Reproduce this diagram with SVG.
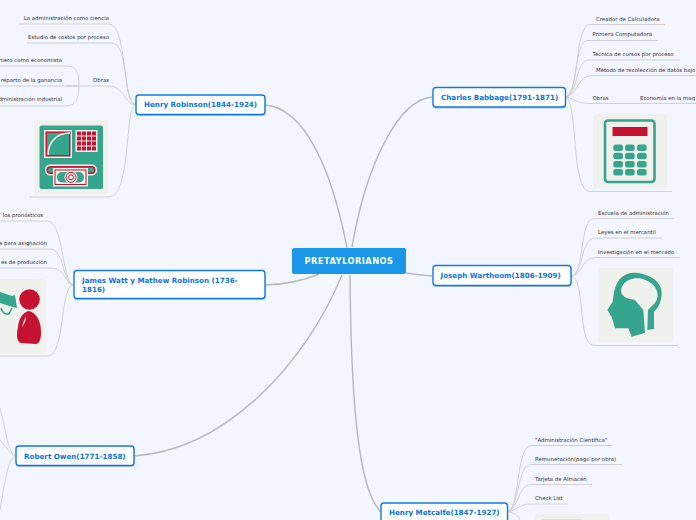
<svg xmlns="http://www.w3.org/2000/svg" width="696" height="520" viewBox="0 0 696 520">
<style>
.c{fill:none;stroke:#b8b8ba;stroke-width:1.4}
.l{fill:none;stroke:#cdcdd0;stroke-width:.9}
.t{font:5.4px "DejaVu Sans",sans-serif;fill:#333}
.n{fill:#fff;stroke:#0e7ae2;stroke-width:1.4}
.s{fill:#7f9cc0;opacity:.55}
.nt{font:bold 7.15px "DejaVu Sans",sans-serif;fill:#0b76e0}
.bg{fill:#f0f1ec}
.g{fill:#35a58e}
.r{fill:#c41230}
</style>
<rect width="696" height="520" fill="#f3f6fe"/>
<g id="connectors">
<path class="c" d="M265 105C305 108 332 170 347 248"/>
<path class="c" d="M432 97C398 100 366 165 352 247"/>
<path class="c" d="M406 273Q420 275 432 276"/>
<path class="c" d="M265 285Q295 284 319 274"/>
<path class="c" d="M134 456C225 450 305 365 342 275"/>
<path class="c" d="M350 275C351 400 358 490 381 512"/>
<g class="l">
<path d="M135 105C122 100 127 24 109 24H19"/>
<path d="M135 105C122 100 130 43 111 43H27"/>
<path d="M135 105C124 104 125 86 108 86H89"/>
<path d="M135 105C125 107 131 197 109 197H29"/>
<path d="M89 86H66"/>
<path d="M79 86C79 72 76 66 66 66H0"/>
<path d="M79 86H0"/>
<path d="M79 86C79 98 76 106 66 106H0"/>
<path d="M73 285C62 282 64 221 47 221H0"/>
<path d="M73 285C63 283 64 249 50 249H0"/>
<path d="M73 285C65 284 66 268 50 268H0"/>
<path d="M73 285C60 286 65 356 48 356H0"/>
<path d="M565 97C580 95 574 24.500 590 24.500H665"/>
<path d="M565 97C579 96 573 40.500 588 40.500H658"/>
<path d="M565 97C578 96 575 60 589 60H680"/>
<path d="M565 97C577 97 577 75.500 592 75.500H696"/>
<path d="M565 97C574 98 576 103.500 590 103.500H696"/>
<path d="M565 97C579 100 570 191.500 590 191.500H672"/>
<path d="M571 276C585 275 579 218.500 594 218.500H674"/>
<path d="M571 276C584 275 580 238 595 238H662"/>
<path d="M571 276C583 276 581 257.500 595 257.500H680"/>
<path d="M571 276C586 278 577 345.500 594 345.500H678"/>
<path d="M507 512C520 510 516 445.500 531 445.500H612"/>
<path d="M507 512C519 510 517 464.500 531 464.500H622"/>
<path d="M507 512C518 511 518 484.500 531 484.500H592"/>
<path d="M507 512C517 511 519 504 531 504H568"/>
<path d="M507 512C515 512 518 516 520 520"/>
<path d="M16 456C8 454 6 430 0 408"/>
<path d="M16 456C9 455 6 445 0 440"/>
<path d="M16 456C8 458 5 480 0 510"/>
</g>
</g>
<g id="central"><rect x="292" y="248" width="114" height="26" rx="2" fill="#1a97e8"/><text x="349" y="264" text-anchor="middle" style="font:bold 8.300px 'DejaVu Sans',sans-serif;letter-spacing:.45px;fill:#fff">PRETAYLORIANOS</text></g>
<g id="henry-robinson"><rect class="s" x="136" y="96.500" width="129.500" height="19.500" rx="3"/><rect class="n" x="136" y="95" width="129" height="19.500" rx="3"/><text class="nt" x="144" y="107">Henry Robinson(1844-1924)</text></g>
<g id="james-watt"><rect class="s" x="74" y="272" width="191.500" height="28" rx="3"/><rect class="n" x="74" y="270.500" width="191" height="28" rx="3"/><text class="nt" x="82" y="283">James Watt y Mathew Robinson (1736-</text><text class="nt" x="82" y="291.500">1816)</text></g>
<g id="charles-babbage"><rect class="s" x="433" y="89" width="133" height="19.500" rx="3"/><rect class="n" x="433" y="87.500" width="132.500" height="19.500" rx="3"/><text class="nt" x="441" y="100">Charles Babbage(1791-1871)</text></g>
<g id="joseph-warthoom"><rect class="s" x="433" y="267" width="138.500" height="20" rx="3"/><rect class="n" x="433" y="265.500" width="138" height="20" rx="3"/><text class="nt" x="440.500" y="278">Joseph Warthoom(1806-1909)</text></g>
<g id="robert-owen"><rect class="s" x="16" y="447.500" width="118.500" height="19.500" rx="3"/><rect class="n" x="16" y="446" width="118" height="19.500" rx="3"/><text class="nt" x="24" y="459">Robert Owen(1771-1858)</text></g>
<g id="henry-metcalfe"><rect class="n" x="381" y="503" width="126.500" height="22" rx="3"/><text class="nt" x="389" y="515">Henry Metcalfe(1847-1927)</text></g>
<g id="leaves-robinson">
<text class="t" x="109" y="20" text-anchor="end">La administración como ciencia</text>
<text class="t" x="109" y="39" text-anchor="end">Estudio de costos por proceso</text>
<text class="t" x="109" y="82" text-anchor="end">Obras</text>
<text class="t" x="62" y="62" text-anchor="end">niero como economista</text>
<text class="t" x="62" y="82" text-anchor="end">reparto de la ganancia</text>
<text class="t" x="62" y="101" text-anchor="end">dministración industrial</text>
</g>
<g id="leaves-watt">
<text class="t" x="43" y="217" text-anchor="end">los pronósticos</text>
<text class="t" x="47" y="245" text-anchor="end">s para asignación</text>
<text class="t" x="47" y="264" text-anchor="end">es de producción</text>
</g>
<g id="leaves-babbage">
<text class="t" x="596" y="21">Creador de Calculadora</text>
<text class="t" x="592.500" y="36">Primera Computadora</text>
<text class="t" x="592.500" y="56">Técnica de cursos por proceso</text>
<text class="t" x="596" y="72">Método de recolección de datos bajo</text>
<text class="t" x="592.500" y="100">Obras</text>
<text class="t" x="640" y="100">Economía en la maq</text>
</g>
<g id="leaves-warthoom">
<text class="t" x="598" y="215">Escuela de administración</text>
<text class="t" x="598" y="234">Leyes en el mercantil</text>
<text class="t" x="598" y="254">Investigación en el mercado</text>
</g>
<g id="leaves-metcalfe">
<text class="t" x="535" y="442">"Administración Científica"</text>
<text class="t" x="535" y="461">Remuneración(pago por obra)</text>
<text class="t" x="535" y="481">Tarjeta de Almacén</text>
<text class="t" x="535" y="500">Check List</text>
</g>
<g id="image-robinson">
<rect class="bg" x="34" y="120" width="74" height="74" rx="3"/>
<rect class="g" x="39.500" y="125.500" width="63.500" height="63.500" rx="2"/>
<rect x="44" y="130" width="28" height="28" fill="#f0f1ec"/>
<rect x="45.500" y="131.500" width="25" height="25" class="r"/>
<rect x="47" y="133" width="22" height="22" class="g"/>
<path d="M48 155C48 142 57 133 70 133" fill="none" stroke="#f0f1ec" stroke-width="1.500"/>
<rect x="75.500" y="130" width="22" height="22" fill="#f0f1ec"/>
<path class="r" d="M77 131.500h4v4h-4zM82 131.500h4v4h-4zM87 131.500h4v4h-4zM92 131.500h4v4h-4zM77 136.500h4v4h-4zM82 136.500h4v4h-4zM87 136.500h4v4h-4zM92 136.500h4v4h-4zM77 141.500h4v4h-4zM82 141.500h4v4h-4zM87 141.500h4v4h-4zM92 141.500h4v4h-4zM77 146.500h4v4h-4zM82 146.500h4v4h-4zM87 146.500h4v4h-4zM92 146.500h4v4h-4z"/>
<rect x="45" y="164.500" width="52" height="11" rx="5" fill="#f0f1ec"/>
<rect x="46.500" y="166" width="49" height="8" rx="4" class="r"/>
<rect x="48" y="167.500" width="46" height="5" rx="2.500" class="g"/>
<rect x="53" y="168" width="35" height="18.500" fill="#f0f1ec"/>
<rect x="54.500" y="169.500" width="32" height="15.500" class="r"/>
<rect x="55.500" y="170.500" width="30" height="13.500" fill="#f0f1ec"/>
<rect x="57" y="172" width="27" height="10.500" rx="5" class="g"/>
<circle cx="71" cy="177.300" r="6.500" fill="#f0f1ec"/>
<circle cx="71" cy="177.300" r="5" fill="none" stroke="#c41230" stroke-width="1"/>
<circle cx="71" cy="177.300" r="2.500" fill="none" stroke="#c41230" stroke-width="1"/>
</g>
<g id="image-watt">
<rect class="bg" x="-28" y="279" width="74" height="74" rx="3"/>
<path class="g" d="M0 292L12 296L15 295L17 308L13 307L0 303z"/>
<path d="M1 308Q3 315 9 314L12 308" fill="none" stroke="#35a58e" stroke-width="1.500"/>
<circle class="r" cx="29.500" cy="299.500" r="10.300"/>
<path class="r" d="M29 311C37 313 41 322 41 332C41 339 40 343 36 344L21 343C17 342 16 336 18 327C19 318 23 312 29 311z"/>
<path d="M26 316Q23 322 22 327Q26 322 26 316z" fill="#f0f1ec"/>
</g>
<g id="image-babbage">
<rect class="bg" x="593" y="114" width="74" height="74" rx="3"/>
<rect x="605" y="120.500" width="49.500" height="61.500" rx="3" fill="#f0f1ec" stroke="#35a58e" stroke-width="2.600"/>
<rect class="r" x="612.500" y="127" width="35" height="9"/>
<g class="g">
<rect x="613.300" y="144.500" width="9.700" height="6.500" rx="2.500"/><rect x="625" y="144.500" width="9.700" height="6.500" rx="2.500"/><rect x="637" y="144.500" width="9.700" height="6.500" rx="2.500"/>
<rect x="613.300" y="152.800" width="9.700" height="6.500" rx="2.500"/><rect x="625" y="152.800" width="9.700" height="6.500" rx="2.500"/><rect x="637" y="152.800" width="9.700" height="6.500" rx="2.500"/>
<rect x="613.300" y="161" width="9.700" height="6.500" rx="2.500"/><rect x="625" y="161" width="9.700" height="6.500" rx="2.500"/><rect x="637" y="161" width="9.700" height="6.500" rx="2.500"/>
<rect x="613.300" y="169" width="9.700" height="6.500" rx="2.500"/><rect x="625" y="169" width="9.700" height="6.500" rx="2.500"/><rect x="637" y="169" width="9.700" height="6.500" rx="2.500"/>
</g>
</g>
<g id="image-warthoom">
<rect class="bg" x="598" y="268" width="75" height="74" rx="3"/>
<path class="g" transform="translate(590 260) scale(.3333)" d="M172 210L192 207L192 155C205 145 215 125 215 97C215 62 172 38 130 38C95 40 75 65 70 110L68 125L52 150L65 170L75 205L115 205L125 230L165 218L160 150L135 120C120 116 100 115 94 98C90 78 108 58 135 55C172 53 203 78 203 105C203 128 185 137 174 150z"/>
</g>
<g id="image-metcalfe">
<rect class="bg" x="535" y="514" width="74" height="10" rx="3"/>
<rect x="542" y="519" width="39" height="5" fill="#d5e8dc"/>
</g>
</svg>
